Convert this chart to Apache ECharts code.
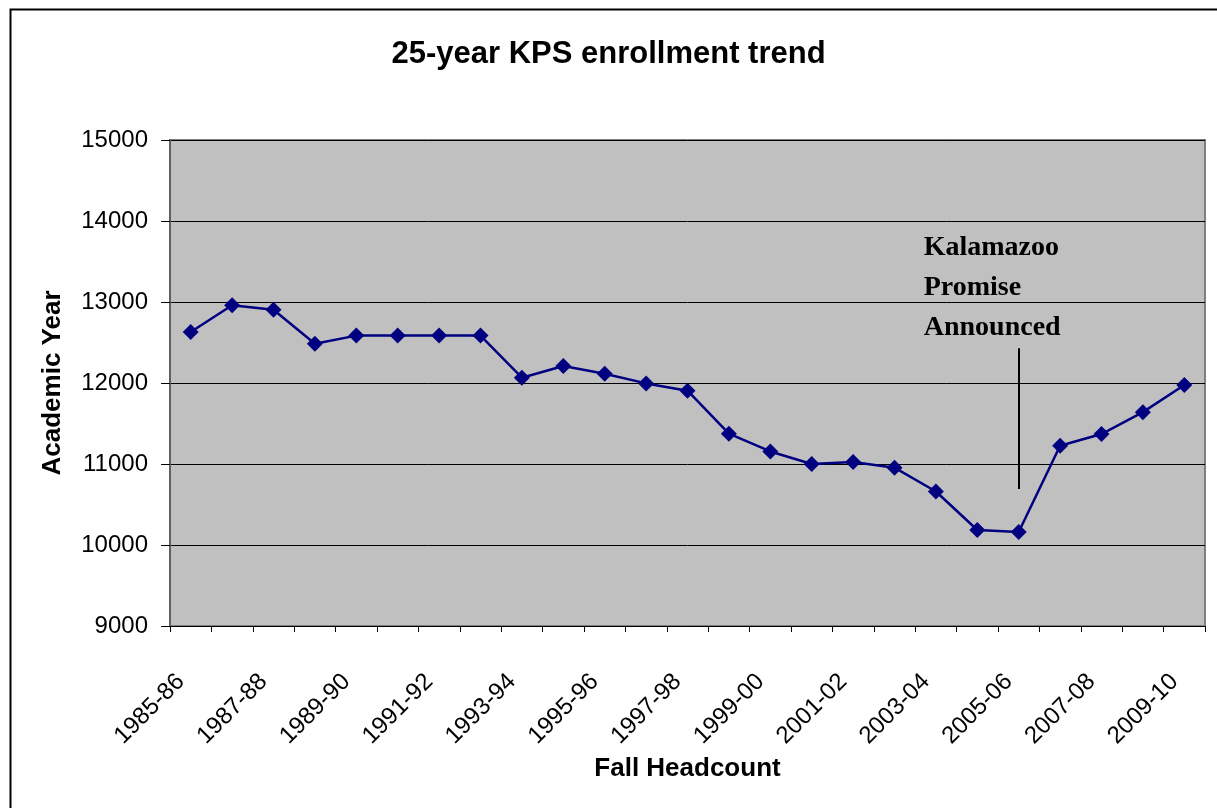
<!DOCTYPE html>
<html>
<head>
<meta charset="utf-8">
<script src="https://cdn.jsdelivr.net/npm/echarts@6/dist/echarts.min.js"></script>
<style>
html,body{margin:0;padding:0;background:#fff;}
#chart{width:1217px;height:808px;}
</style>
</head>
<body>
<div id="chart"></div>
<script>
const years = ['1985-86','1986-87','1987-88','1988-89','1989-90','1990-91','1991-92','1992-93','1993-94','1994-95','1995-96','1996-97','1997-98','1998-99','1999-00','2000-01','2001-02','2002-03','2003-04','2004-05','2005-06','2006-07','2007-08','2008-09','2009-10'];
const headcount = [12630,12960,12905,12485,12585,12585,12585,12585,12065,12210,12115,11995,11905,11375,11155,11000,11025,10955,10660,10185,10160,11225,11370,11640,11975];
const yTicks = [9000,10000,11000,12000,13000,14000,15000];
const annotationCategory = '2005-06';
const annotationLine = [12430, 10690];
const annotationTextValue = 13180;
const annotationText = 'Kalamazoo\nPromise\nAnnounced';

const chart = echarts.init(document.getElementById('chart'));
chart.setOption({
  animation: false,
  backgroundColor: '#ffffff',
  graphic: [{
    type: 'rect', left: 8, top: 7, z: -10,
    shape: {width: 1400, height: 1000},
    style: {fill: 'none', stroke: '#000', lineWidth: 2}
  }],
  title: {
    text: '25-year KPS enrollment trend',
    left: 'center', top: 34,
    textStyle: {fontFamily: 'Liberation Sans, Arial', fontSize: 31, fontWeight: 'bold', color: '#000'}
  },
  grid: {
    left: 170, top: 140, right: 12, bottom: 182,
    show: true, backgroundColor: '#C0C0C0', borderColor: '#808080', borderWidth: 2
  },
  xAxis: {
    type: 'category', data: years, boundaryGap: true,
    name: 'Fall Headcount', nameLocation: 'middle', nameGap: 128,
    nameTextStyle: {fontFamily: 'Liberation Sans, Arial', fontSize: 26, fontWeight: 'bold', color: '#000'},
    axisLine: {lineStyle: {color: '#000', width: 1}},
    axisTick: {show: true, interval: 0, length: 6, lineStyle: {color: '#000'}},
    axisLabel: {interval: 1, rotate: 45, margin: 42, padding: [0, 14, 0, 0], fontFamily: 'Liberation Sans, Arial', fontSize: 24, color: '#000'},
    splitLine: {show: false}
  },
  yAxis: {
    type: 'value', min: yTicks[0], max: yTicks[yTicks.length-1], interval: 1000,
    name: 'Academic Year', nameLocation: 'middle', nameGap: 104,
    nameTextStyle: {fontFamily: 'Liberation Sans, Arial', fontSize: 26, fontWeight: 'bold', color: '#000'},
    axisLine: {show: true, lineStyle: {color: '#606060', width: 2}},
    axisTick: {show: true, length: 9, lineStyle: {color: '#000'}},
    axisLabel: {margin: 22, formatter: v => String(v), fontFamily: 'Liberation Sans, Arial', fontSize: 24, color: '#000'},
    splitLine: {show: true, lineStyle: {color: '#000', width: 1}}
  },
  series: [{
    type: 'line', data: headcount,
    symbol: 'diamond', symbolSize: 16,
    itemStyle: {color: '#000080'},
    lineStyle: {color: '#000080', width: 2.5},
    markLine: {
      silent: true, symbol: 'none',
      label: {show: false},
      lineStyle: {color: '#000', width: 2, type: 'solid'},
      data: [[{coord: [annotationCategory, annotationLine[0]]}, {coord: [annotationCategory, annotationLine[1]]}]]
    },
    markPoint: {
      silent: true, symbol: 'circle', symbolSize: 0,
      label: {
        show: true, position: 'inside', align: 'left', verticalAlign: 'middle',
        offset: [-95, 0],
        formatter: annotationText,
        fontFamily: 'Liberation Serif, serif', fontWeight: 'bold', fontSize: 28, lineHeight: 40, color: '#000'
      },
      data: [{coord: [annotationCategory, annotationTextValue]}]
    }
  }]
});
</script>
</body>
</html>
